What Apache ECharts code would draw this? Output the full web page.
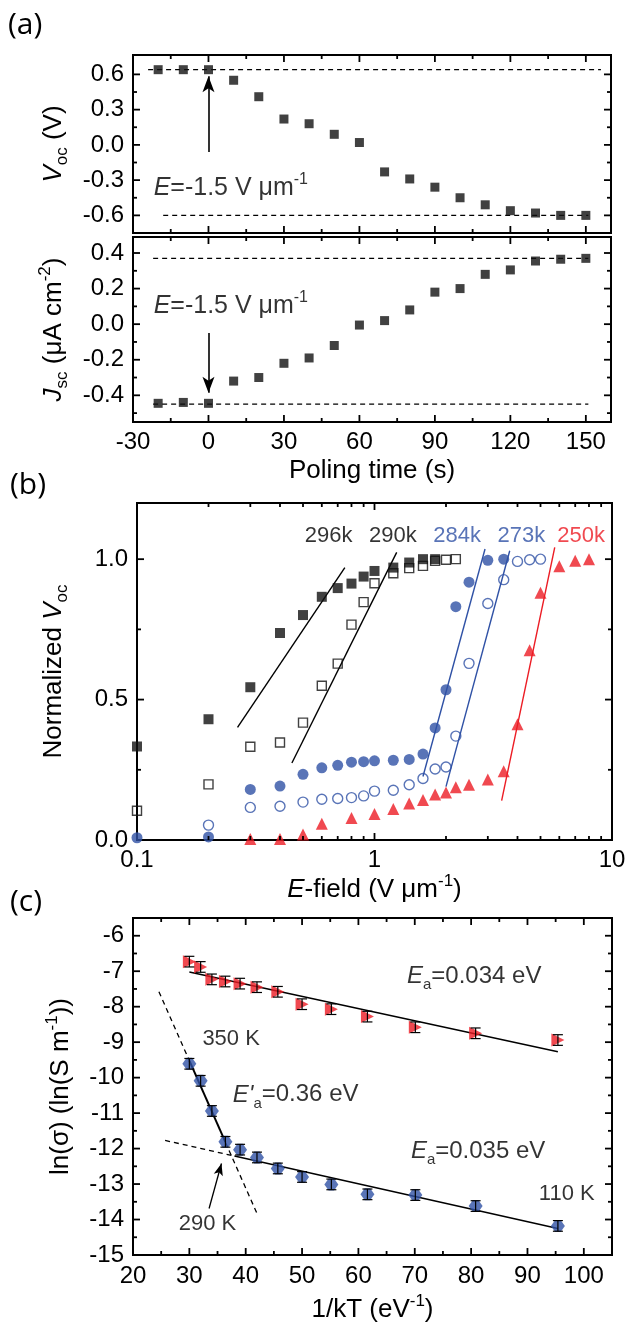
<!DOCTYPE html>
<html><head><meta charset="utf-8">
<script src="https://cdn.jsdelivr.net/npm/echarts@6/dist/echarts.min.js"></script>
<style>html,body{margin:0;padding:0;background:#fff}#c{width:629px;height:1328px}</style>
</head><body><div id="c"></div>
<script>
// ---------------- Panel (a) data ----------------
const pollTime = [-20,-10,0,10,20,30,40,50,60,70,80,90,100,110,120,130,140,150];
const vocValues = [0.64,0.64,0.64,0.55,0.41,0.22,0.18,0.09,0.02,-0.23,-0.29,-0.36,-0.45,-0.51,-0.56,-0.58,-0.60,-0.60];
const jscValues = [-0.445,-0.44,-0.445,-0.32,-0.30,-0.22,-0.19,-0.12,-0.005,0.02,0.08,0.18,0.20,0.28,0.305,0.355,0.365,0.37];
const vocLevels = [0.64, -0.60];
const vocLevelSpans = [[-24,156],[-18,151]];
const jscLevels = [0.37, -0.45];
const jscLevelSpans = [[-22,151],[-22,151]];
const timeTicksMajor = [0,30,60,90,120,150];
const timeTicksMinor = [-15,15,45,75,105,135];
const vocTicksMajor = [-0.6,-0.3,0,0.3,0.6];
const vocTicksMinor = [-0.45,-0.15,0.15,0.45];
const jscTicksMajor = [-0.4,-0.2,0,0.2,0.4];
const jscTicksMinor = [-0.5,-0.3,-0.1,0.1,0.3];

// ---------------- Panel (b) data ----------------
const field296 = [0.1,0.2,0.3,0.4,0.5,0.6,0.7,0.8,0.9,1.0,1.2,1.4,1.6,1.8];
const voc296 = [0.333,0.43,0.544,0.737,0.801,0.866,0.897,0.913,0.938,0.958,0.970,0.988,1.0,1.0];
const field290 = [0.1,0.2,0.3,0.4,0.5,0.6,0.7,0.8,0.9,1.0,1.2,1.4,1.6,1.8,2.0,2.2];
const voc290 = [0.104,0.198,0.332,0.347,0.418,0.549,0.628,0.767,0.847,0.914,0.950,0.968,0.976,0.994,0.998,1.0];
const field284 = [0.1,0.2,0.3,0.4,0.5,0.6,0.7,0.8,0.9,1.0,1.2,1.4,1.6,1.8,2.0,2.2,2.5,3.0,3.5];
const voc284 = [0.008,0.011,0.18,0.192,0.234,0.257,0.266,0.277,0.279,0.282,0.284,0.287,0.306,0.399,0.535,0.831,0.918,0.996,1.0];
const field273 = [0.2,0.3,0.4,0.5,0.6,0.7,0.8,0.9,1.0,1.2,1.4,1.6,1.8,2.0,2.2,2.5,3.0,3.5,4.0,4.5,5.0];
const voc273 = [0.053,0.116,0.12,0.135,0.145,0.148,0.151,0.157,0.174,0.177,0.197,0.219,0.253,0.26,0.37,0.629,0.842,0.927,0.992,0.998,1.0];
const field250 = [0.3,0.4,0.5,0.6,0.8,1.0,1.2,1.4,1.6,1.8,2.0,2.2,2.5,3.0,3.5,4.0,4.5,5.0,6.0,7.0,8.0];
const voc250 = [0.004,0.004,0.02,0.058,0.078,0.093,0.11,0.13,0.142,0.162,0.169,0.188,0.197,0.215,0.245,0.412,0.676,0.88,0.975,0.994,1.0];
const fit296 = [[0.265,0.401],[0.75,0.97]];
const fit290 = [[0.449,0.274],[1.24,1.024]];
const fit284 = [[1.60,0.226],[2.92,1.036]];
const fit273 = [[2.00,0.19],[3.71,1.03]];
const fit250 = [[3.43,0.14],[5.74,1.042]];
const tempLabels = ['296k','290k','284k','273k','250k'];
const fieldTicksMajor = [1];
const fieldTicksMinor = [0.2,0.3,0.4,0.5,0.6,0.7,0.8,0.9,2,3,4,5,6,7,8,9];
const normTicksMajor = [0.5,1.0];
const normTicksMinor = [0.25,0.75];

// ---------------- Panel (c) data ----------------
const invKT = [30,32,34,36.4,39,42,45.7,50,55.2,61.6,70.1,80.8,95.4];
const lnSigmaHigh = [-6.73,-6.88,-7.23,-7.29,-7.35,-7.45,-7.58,-7.93,-8.07,-8.28,-8.58,-8.75,-8.94];
const lnSigmaLow = [-9.61,-10.09,-10.94,-11.81,-12.03,-12.25,-12.56,-12.80,-13.01,-13.29,-13.31,-13.62,-14.18];
const errHigh = [0.15,0.15,0.15,0.15,0.15,0.15,0.15,0.15,0.15,0.15,0.15,0.15,0.15];
const errLow = [0.15,0.15,0.15,0.15,0.15,0.15,0.15,0.15,0.15,0.15,0.15,0.15,0.15];
const fitHigh = [[30,-7.02],[95.4,-9.27]];
const fitLowSolid = [[38,-12.21],[95.4,-14.25]];
const fitLowDashed = [[25.7,-11.77],[38,-12.21]];
const fitSteepSolid = [[30,-9.52],[36.4,-11.82]];
const fitSteepDashedUp = [[24.6,-7.58],[30,-9.52]];
const fitSteepDashedDown = [[36.4,-11.82],[42,-13.83]];
const kTTicksMajor = [30,40,50,60,70,80,90,100];
const kTTicksMinor = [25,35,45,55,65,75,85,95];
const lnTicksMajor = [-14,-13,-12,-11,-10,-9,-8,-7,-6];
const lnTicksMinor = [-14.5,-13.5,-12.5,-11.5,-10.5,-9.5,-8.5,-7.5,-6.5];

// ---------------- styling ----------------
const FONT = "'Liberation Sans', Arial, Helvetica, sans-serif";
const BLACK = '#000000', MARK = '#111111', BLUE = '#2f51a5', RED = '#ec1c24';
const FS = 24;      // tick labels
const TS = 26;      // axis titles

function richSet(size, color) {
  const c = color || BLACK;
  const s = Math.round(size * 0.64);
  return {
    n: {fontSize: size, fontFamily: FONT, color: c, lineHeight: size + 8, verticalAlign: 'middle'},
    i: {fontSize: size, fontFamily: FONT, color: c, fontStyle: 'italic', lineHeight: size + 8, verticalAlign: 'middle'},
    sub: {fontSize: s, fontFamily: FONT, color: c, lineHeight: s, verticalAlign: 'bottom'},
    sup: {fontSize: s, fontFamily: FONT, color: c, lineHeight: s, verticalAlign: 'top'}
  };
}

function tickSeries(gi, dir, values, len, ref) {
  return {
    type: 'custom', xAxisIndex: gi, yAxisIndex: gi, silent: true, z: 6, clip: false,
    encode: {x: 0, y: 1},
    data: values.map(v => dir === 'x' ? [v, ref] : [ref, v]),
    renderItem(params, api) {
      const cs = params.coordSys;
      const pt = api.coord([api.value(0), api.value(1)]);
      const st = {stroke: BLACK, lineWidth: 1.8};
      if (dir === 'x') {
        const x = pt[0], yb = cs.y + cs.height, yt = cs.y;
        return {type: 'group', children: [
          {type: 'line', shape: {x1: x, y1: yb, x2: x, y2: yb - len}, style: st},
          {type: 'line', shape: {x1: x, y1: yt, x2: x, y2: yt + len}, style: st}]};
      }
      const y = pt[1], xl = cs.x, xr = cs.x + cs.width;
      return {type: 'group', children: [
        {type: 'line', shape: {x1: xl, y1: y, x2: xl + len, y2: y}, style: st},
        {type: 'line', shape: {x1: xr, y1: y, x2: xr - len, y2: y}, style: st}]};
    }
  };
}

function lineSeries(gi, pts, color, dashed, width) {
  return {type: 'line', xAxisIndex: gi, yAxisIndex: gi, data: pts, symbol: 'none', silent: true, z: 3,
    lineStyle: {color: color, width: width || 1.4, type: dashed ? [5, 4] : 'solid'}, animation: false};
}

function scatterSeries(gi, xs, ys, symbol, size, fill, stroke, bw) {
  return {type: 'scatter', xAxisIndex: gi, yAxisIndex: gi, data: xs.map((x, i) => [x, ys[i]]),
    symbol: symbol, symbolSize: size, silent: true, z: 4,
    itemStyle: {color: fill, borderColor: stroke, borderWidth: bw || 0}};
}

function annot(gi, x, y, text, size, color, align) {
  return {type: 'scatter', xAxisIndex: gi, yAxisIndex: gi, data: [[x, y]], symbolSize: 1, silent: true, z: 10,
    itemStyle: {color: 'rgba(0,0,0,0)'},
    label: {show: true, position: [0, 0], align: align || 'left', verticalAlign: 'middle',
      formatter: text, rich: richSet(size, color)}};
}

function errorSeries(gi, xs, ys, errs) {
  return {type: 'custom', xAxisIndex: gi, yAxisIndex: gi, silent: true, z: 5,
    encode: {x: 0, y: 1},
    data: xs.map((x, i) => [x, ys[i], errs[i]]),
    renderItem(params, api) {
      const x = api.value(0), y = api.value(1), e = api.value(2);
      const t = api.coord([x, y + e]), b = api.coord([x, y - e]);
      const st = {stroke: BLACK, lineWidth: 1.2};
      const hw = 5;
      return {type: 'group', children: [
        {type: 'line', shape: {x1: t[0], y1: t[1], x2: b[0], y2: b[1]}, style: st},
        {type: 'line', shape: {x1: t[0] - hw, y1: t[1], x2: t[0] + hw, y2: t[1]}, style: st},
        {type: 'line', shape: {x1: b[0] - hw, y1: b[1], x2: b[0] + hw, y2: b[1]}, style: st}]};
    }};
}

const axisBase = {axisLine: {show: false}, axisTick: {show: false}, splitLine: {show: false}};
const labelBase = {fontSize: FS, fontFamily: FONT, color: BLACK};

const grids = [
  {left: 133, top: 55, width: 478, height: 178},
  {left: 133, top: 237, width: 478, height: 185},
  {left: 137, top: 503, width: 475, height: 337},
  {left: 133, top: 918, width: 479, height: 337}
].map(g => Object.assign(g, {show: true, borderColor: BLACK, borderWidth: 2, backgroundColor: 'transparent'}));

const isMult = (v, m) => Math.abs(v / m - Math.round(v / m)) < 1e-6;

const xAxes = [
  Object.assign({gridIndex: 0, type: 'value', min: -30, max: 160, interval: 30, axisLabel: {show: false}}, axisBase),
  Object.assign({gridIndex: 1, type: 'value', min: -30, max: 160, interval: 30,
    axisLabel: Object.assign({margin: 8, formatter: v => (isMult(v, 30) && v <= 150) ? String(Math.round(v)) : ''}, labelBase),
    name: '{n|Poling time (s)}', nameLocation: 'middle', nameGap: 32, nameTextStyle: {rich: richSet(TS)}}, axisBase),
  Object.assign({gridIndex: 2, type: 'log', logBase: 10, min: 0.1, max: 10,
    axisLabel: Object.assign({margin: 8, formatter: v => String(Number(Number(v).toPrecision(3)))}, labelBase),
    name: '{i|E}{n|-field (V μm}{sup|-1}{n|)}', nameLocation: 'middle', nameGap: 30, nameTextStyle: {rich: richSet(TS)}}, axisBase),
  Object.assign({gridIndex: 3, type: 'value', min: 20, max: 105, interval: 10,
    axisLabel: Object.assign({margin: 9, formatter: v => (isMult(v, 10) && v <= 100) ? String(Math.round(v)) : ''}, labelBase),
    name: '{n|1/kT (eV}{sup|-1}{n|)}', nameLocation: 'middle', nameGap: 38, nameTextStyle: {rich: richSet(TS)}}, axisBase)
];

const yAxes = [
  Object.assign({gridIndex: 0, type: 'value', min: -0.75, max: 0.765, interval: 0.15,
    axisLabel: Object.assign({margin: 9, formatter: v => isMult(v, 0.3) && Math.abs(v) < 0.7 ? (Math.abs(v) < 1e-9 ? '0.0' : v.toFixed(1)) : ''}, labelBase),
    name: '{i|V}{sub|oc}{n| (V)}', nameLocation: 'middle', nameGap: 62, nameTextStyle: {rich: richSet(TS)}}, axisBase),
  Object.assign({gridIndex: 1, type: 'value', min: -0.55, max: 0.49, interval: 0.05,
    axisLabel: Object.assign({margin: 9, formatter: v => isMult(v, 0.2) ? (Math.abs(v) < 1e-9 ? '0.0' : v.toFixed(1)) : ''}, labelBase),
    name: '{i|J}{sub|sc}{n| (μA cm}{sup|-2}{n|)}', nameLocation: 'middle', nameGap: 62, nameTextStyle: {rich: richSet(TS)}}, axisBase),
  Object.assign({gridIndex: 2, type: 'value', min: 0, max: 1.2, interval: 0.5,
    axisLabel: Object.assign({margin: 9, formatter: v => isMult(v, 0.5) && v <= 1.0 ? v.toFixed(1) : ''}, labelBase),
    name: '{n|Normalized }{i|V}{sub|oc}', nameLocation: 'middle', nameGap: 66, nameTextStyle: {rich: richSet(TS)}}, axisBase),
  Object.assign({gridIndex: 3, type: 'value', min: -15, max: -5.5, interval: 1,
    axisLabel: Object.assign({margin: 9, formatter: v => isMult(v, 1) ? String(Math.round(v)) : ''}, labelBase),
    name: '{n|ln(σ) (ln(S m}{sup|-1}{n|))}', nameLocation: 'middle', nameGap: 55, nameTextStyle: {rich: richSet(TS)}}, axisBase)
];

const series = [];
// ticks
series.push(tickSeries(0, 'x', timeTicksMajor, 7, 0), tickSeries(0, 'x', timeTicksMinor, 4, 0));
series.push(tickSeries(1, 'x', timeTicksMajor, 7, 0), tickSeries(1, 'x', timeTicksMinor, 4, 0));
series.push(tickSeries(0, 'y', vocTicksMajor, 7, 0), tickSeries(0, 'y', vocTicksMinor, 4, 0));
series.push(tickSeries(1, 'y', jscTicksMajor, 7, 0), tickSeries(1, 'y', jscTicksMinor, 4, 0));
series.push(tickSeries(2, 'x', fieldTicksMajor, 7, 0.5), tickSeries(2, 'x', fieldTicksMinor, 4, 0.5));
series.push(tickSeries(2, 'y', normTicksMajor, 7, 1), tickSeries(2, 'y', normTicksMinor, 4, 1));
series.push(tickSeries(3, 'x', kTTicksMajor, 7, -10), tickSeries(3, 'x', kTTicksMinor, 4, -10));
series.push(tickSeries(3, 'y', lnTicksMajor, 7, 50), tickSeries(3, 'y', lnTicksMinor, 4, 50));

// panel (a)
vocLevels.forEach((lv, k) => series.push(lineSeries(0, [[vocLevelSpans[k][0], lv], [vocLevelSpans[k][1], lv]], BLACK, true, 1.2)));
jscLevels.forEach((lv, k) => series.push(lineSeries(1, [[jscLevelSpans[k][0], lv], [jscLevelSpans[k][1], lv]], BLACK, true, 1.2)));
const vocSer = scatterSeries(0, pollTime, vocValues, 'rect', 9, MARK);
vocSer.markLine = {silent: true, symbol: ['none', 'arrow'], symbolSize: [9, 16], label: {show: false}, animation: false,
  lineStyle: {color: BLACK, width: 1.6, type: 'solid'}, data: [[{coord: [0, -0.06]}, {coord: [0, 0.585]}]]};
const jscSer = scatterSeries(1, pollTime, jscValues, 'rect', 9, MARK);
jscSer.markLine = {silent: true, symbol: ['none', 'arrow'], symbolSize: [9, 16], label: {show: false}, animation: false,
  lineStyle: {color: BLACK, width: 1.6, type: 'solid'}, data: [[{coord: [0, -0.05]}, {coord: [0, -0.385]}]]};
series.push(vocSer, jscSer);
series.push(annot(0, -21.6, -0.37, '{i|E}{n|=-1.5 V μm}{sup|-1}', 25));
series.push(annot(1, -21.6, 0.10, '{i|E}{n|=-1.5 V μm}{sup|-1}', 25));

// panel (b)
series.push(lineSeries(2, fit296, BLACK), lineSeries(2, fit290, BLACK), lineSeries(2, fit284, BLUE),
  lineSeries(2, fit273, BLUE), lineSeries(2, fit250, RED));
series.push(scatterSeries(2, field296, voc296, 'rect', 10, MARK));
series.push(scatterSeries(2, field290, voc290, 'rect', 9, 'rgba(0,0,0,0)', MARK, 1.4));
series.push(scatterSeries(2, field284, voc284, 'circle', 11, BLUE));
series.push(scatterSeries(2, field273, voc273, 'circle', 10, 'rgba(0,0,0,0)', BLUE, 1.4));
series.push(scatterSeries(2, field250, voc250, 'triangle', 12, RED));
const tempLabelPos = [[0.644, 1.08], [1.20, 1.08], [2.24, 1.08], [4.17, 1.08], [7.45, 1.08]];
const tempColors = [BLACK, BLACK, BLUE, BLUE, RED];
tempLabels.forEach((t, k) => series.push(annot(2, tempLabelPos[k][0], tempLabelPos[k][1], '{n|' + t + '}', 22, tempColors[k], 'center')));

// panel (c)
series.push(lineSeries(3, fitHigh, BLACK, false, 1.5));
series.push(lineSeries(3, fitLowSolid, BLACK, false, 1.5));
series.push(lineSeries(3, fitLowDashed, BLACK, true, 1.3));
series.push(lineSeries(3, fitSteepSolid, BLACK, false, 2));
series.push(lineSeries(3, fitSteepDashedUp, BLACK, true, 1.3));
series.push(lineSeries(3, fitSteepDashedDown, BLACK, true, 1.3));
const highSer = scatterSeries(3, invKT, lnSigmaHigh, 'path://M0,0 L12,6 L0,12 Z', [13, 13], RED);
const lowSer = scatterSeries(3, invKT, lnSigmaLow, 'path://M0,6 L4,0 L9,0 L13,6 L9,12 L4,12 Z', [14, 12], BLUE);
lowSer.markLine = {silent: true, symbol: ['none', 'arrow'], symbolSize: [7, 12], label: {show: false}, animation: false,
  lineStyle: {color: BLACK, width: 1.3, type: 'solid'}, data: [[{coord: [33.5, -13.69]}, {coord: [35.7, -12.42]}]]};
series.push(highSer, lowSer);
series.push(errorSeries(3, invKT, lnSigmaHigh, errHigh), errorSeries(3, invKT, lnSigmaLow, errLow));
series.push(annot(3, 68.7, -7.15, '{i|E}{sub|a}{n|=0.034 eV}', 24));
series.push(annot(3, 32.4, -8.92, '{n|350 K}', 22));
series.push(annot(3, 37.8, -10.5, '{i|E\'}{sub|a}{n|=0.36 eV}', 24));
series.push(annot(3, 69.4, -12.08, '{i|E}{sub|a}{n|=0.035 eV}', 24));
series.push(annot(3, 92.1, -13.3, '{n|110 K}', 22));
series.push(annot(3, 28.2, -14.15, '{n|290 K}', 22));

const panelFont = "30px 'Open Sans', 'Noto Sans', sans-serif";
const chart = echarts.init(document.getElementById('c'), null, {renderer: 'canvas', width: 629, height: 1328});
chart.setOption({
  backgroundColor: '#fff',
  animation: false,
  grid: grids,
  xAxis: xAxes,
  yAxis: yAxes,
  series: series,
  graphic: [
    {type: 'text', left: 8, top: 10, style: {text: '(a)', font: panelFont, fill: BLACK}},
    {type: 'text', left: 10, top: 470, style: {text: '(b)', font: panelFont, fill: BLACK}},
    {type: 'text', left: 10, top: 887, style: {text: '(c)', font: panelFont, fill: BLACK}}
  ]
});
</script></body></html>
